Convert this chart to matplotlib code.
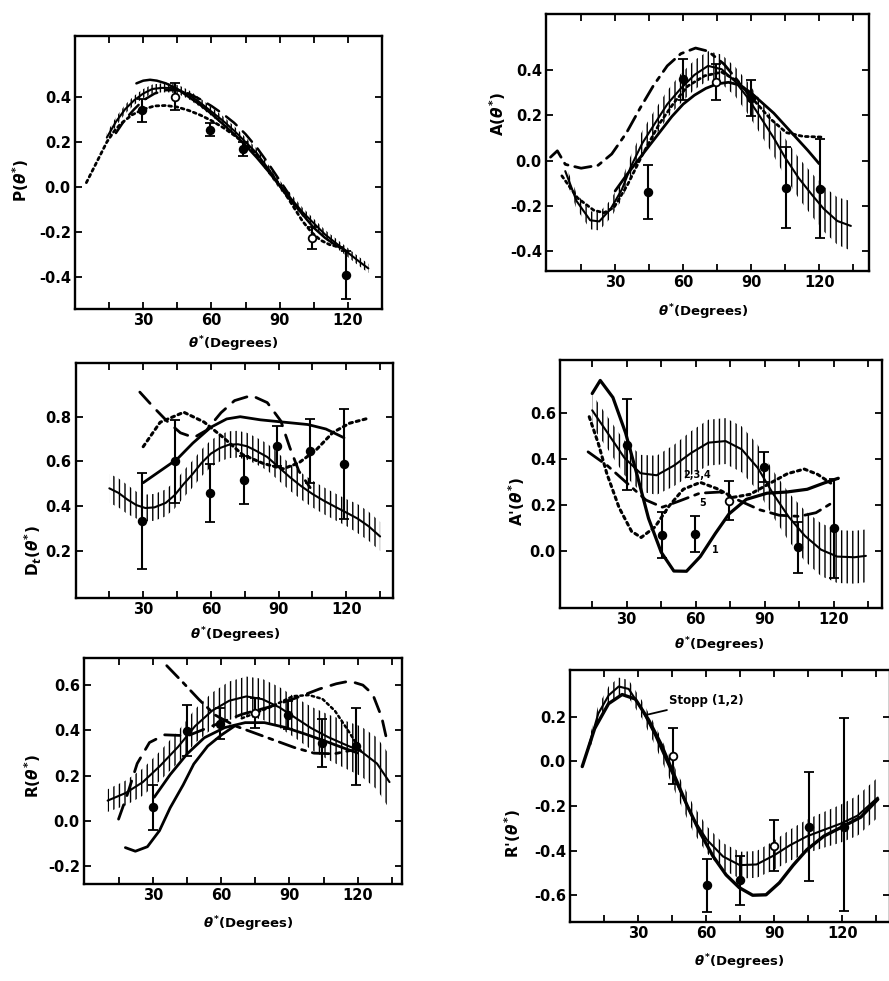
import numpy as np
import matplotlib
matplotlib.use("Agg")
import matplotlib.pyplot as plt

plt.rcParams['font.family'] = ['DejaVu Sans']
plt.rcParams['font.weight'] = 'bold'
plt.rcParams['mathtext.fontset'] = 'custom'
plt.rcParams['mathtext.rm'] = 'DejaVu Sans:bold'
plt.rcParams['mathtext.it'] = 'DejaVu Sans:italic:bold'
plt.rcParams['mathtext.bf'] = 'DejaVu Sans:bold'
plt.rcParams['hatch.linewidth'] = 1.0
plt.rcParams['hatch.color'] = 'black'

# ---------------- P(theta) ----------------
p_band_x = [14, 18, 22, 26, 30, 34, 38, 42, 46, 50, 55, 60, 65, 70, 75, 80, 85, 90, 95, 100, 105, 110, 115, 120, 125, 129]
p_band_y = [0.22, 0.29, 0.345, 0.385, 0.415, 0.435, 0.44, 0.44, 0.43, 0.41, 0.375, 0.335, 0.295, 0.25, 0.20, 0.15,
            0.08, 0.01, -0.05, -0.11, -0.16, -0.21, -0.25, -0.29, -0.33, -0.36]
p_band_hw = [0.02] * 26
p_solid_x = [27, 30, 33, 36, 40, 45, 50, 55, 60, 65, 70, 75, 80, 85, 90, 95, 100, 105, 110, 115, 119]
p_solid_y = [0.46, 0.472, 0.476, 0.472, 0.46, 0.435, 0.40, 0.365, 0.325, 0.28, 0.235, 0.185, 0.13, 0.07, 0.005,
             -0.06, -0.12, -0.18, -0.225, -0.26, -0.28]
p_dot_x = [5, 8, 11, 14, 17, 20, 25, 30, 35, 40, 45, 50, 55, 60, 65, 70, 75, 80, 85, 90, 95, 100, 104, 108, 112, 116, 119]
p_dot_y = [0.02, 0.08, 0.14, 0.2, 0.245, 0.28, 0.32, 0.345, 0.36, 0.362, 0.355, 0.34, 0.32, 0.295, 0.265, 0.23,
           0.19, 0.14, 0.08, 0.01, -0.07, -0.15, -0.2, -0.235, -0.255, -0.265, -0.27]
p_dash_x = [18, 22, 26, 30, 35, 40, 45, 50, 55, 60, 65, 70, 75, 80, 85, 90, 94]
p_dash_y = [0.24, 0.30, 0.345, 0.385, 0.415, 0.43, 0.43, 0.415, 0.39, 0.36, 0.325, 0.285, 0.235, 0.175, 0.105, 0.03, -0.03]
p_pts_x = [29.4, 44, 59.4, 74, 104.4, 119.3]
p_pts_y = [0.34, 0.40, 0.255, 0.17, -0.225, -0.39]
p_pts_err = [0.05, 0.06, 0.03, 0.03, 0.05, 0.105]
p_pts_filled = [True, False, True, True, False, True]

# ---------------- A(theta) ----------------
a_band_x = [8, 13, 19, 23, 28, 33, 37, 42, 47, 53, 59, 65, 71, 77, 83, 88, 94, 100, 105, 111, 117, 122, 128, 134]
a_band_y = [-0.047, -0.18, -0.265, -0.27, -0.215, -0.128, -0.026, 0.077, 0.156, 0.25, 0.32, 0.38, 0.42, 0.405,
            0.35, 0.285, 0.194, 0.10, 0.013, -0.078, -0.154, -0.214, -0.268, -0.29]
a_band_hw = [0.03, 0.035, 0.04, 0.04, 0.04, 0.045, 0.05, 0.055, 0.06, 0.06, 0.065, 0.065, 0.065, 0.065, 0.065,
             0.07, 0.075, 0.08, 0.085, 0.09, 0.095, 0.10, 0.105, 0.11]
a_solid_x = [30, 35, 40, 45, 50, 55, 60, 65, 70, 75, 80, 85, 90, 95, 100, 105, 110, 115, 120]
a_solid_y = [-0.135, -0.065, 0.0, 0.065, 0.13, 0.195, 0.25, 0.29, 0.32, 0.34, 0.347, 0.335, 0.30, 0.255, 0.21,
             0.155, 0.10, 0.045, -0.014]
a_dashdot_x = [1.5, 4.5, 8, 15, 22.5, 28.5, 35, 41, 47, 53, 59, 65.5, 71, 78, 85.5, 90]
a_dashdot_y = [0.015, 0.043, -0.017, -0.034, -0.021, 0.029, 0.123, 0.232, 0.334, 0.42, 0.474, 0.499, 0.485,
               0.428, 0.337, 0.28]
a_dot_x = [6.5, 13.5, 20.5, 25, 29.5, 35.5, 42, 49.5, 56, 62, 69.5, 77, 84, 91, 98.5, 105.5, 113, 121.5]
a_dot_y = [-0.068, -0.167, -0.22, -0.232, -0.208, -0.107, 0.025, 0.163, 0.257, 0.33, 0.376, 0.392, 0.352, 0.27,
           0.185, 0.124, 0.107, 0.104]
a_pts_x = [44.7, 59.9, 74.6, 89.8, 105.2, 120.2]
a_pts_y = [-0.14, 0.36, 0.35, 0.277, -0.12, -0.125]
a_pts_err = [0.12, 0.09, 0.08, 0.08, 0.18, 0.22]
a_pts_filled = [True, True, False, True, True, True]

# ---------------- D_t(theta) ----------------
d_band_x = [15, 19, 23, 27, 31, 35, 40, 44, 48, 52, 56, 60, 64, 68, 72, 76, 80, 85, 90, 95, 100, 105, 110, 115,
            120, 125, 130, 135]
d_band_y = [0.48, 0.46, 0.43, 0.405, 0.392, 0.395, 0.415, 0.45, 0.50, 0.545, 0.595, 0.635, 0.66, 0.675, 0.677,
            0.668, 0.648, 0.62, 0.575, 0.53, 0.49, 0.455, 0.425, 0.398, 0.372, 0.345, 0.31, 0.265]
d_band_hw = [0.065] * 3 + [0.06] * 22 + [0.065] * 3
d_solid_x = [30, 37, 45, 52, 60, 67, 73, 82, 92, 103, 111, 119]
d_solid_y = [0.505, 0.554, 0.61, 0.682, 0.753, 0.79, 0.80, 0.786, 0.776, 0.765, 0.745, 0.706]
d_dash_x = [28.5, 35, 40.5, 46.5, 52.5, 58, 64.5, 70.5, 78, 85, 91, 95, 99, 104]
d_dash_y = [0.91, 0.838, 0.781, 0.728, 0.707, 0.739, 0.818, 0.872, 0.895, 0.863, 0.781, 0.662, 0.557, 0.483]
d_dot_x = [30, 37.5, 48, 57, 65.5, 74, 83, 92, 99, 106.5, 114, 121.5, 129]
d_dot_y = [0.666, 0.775, 0.82, 0.776, 0.707, 0.631, 0.592, 0.567, 0.594, 0.65, 0.729, 0.771, 0.791]
d_pts_x = [29.3, 44.3, 59.6, 74.7, 89.4, 104, 119.2]
d_pts_y = [0.335, 0.60, 0.46, 0.518, 0.67, 0.647, 0.588]
d_pts_err = [0.215, 0.185, 0.13, 0.107, 0.09, 0.145, 0.245]
d_pts_filled = [True] * 7

# ---------------- A'(theta) ----------------
ap_band_x = [15, 22, 29, 36, 43, 50.5, 58, 65.5, 73, 80, 87, 93.5, 100.5, 107.5, 114.5, 121.5, 129, 134]
ap_band_y = [0.611, 0.508, 0.404, 0.337, 0.328, 0.37, 0.425, 0.47, 0.477, 0.441, 0.36, 0.25, 0.146, 0.064,
             0.004, -0.026, -0.029, -0.023]
ap_band_hw = [0.07, 0.07, 0.075, 0.08, 0.085, 0.09, 0.095, 0.1, 0.1, 0.1, 0.1, 0.1, 0.105, 0.11, 0.115, 0.115,
              0.115, 0.115]
ap_one_x = [15, 18.5, 24, 29.5, 34.5, 39.5, 45, 50.5, 56, 62, 68.5, 74.5, 82, 91, 99.5, 108.5, 116, 122]
ap_one_y = [0.684, 0.741, 0.667, 0.513, 0.33, 0.14, -0.007, -0.089, -0.09, -0.026, 0.074, 0.16, 0.223, 0.25,
            0.255, 0.267, 0.295, 0.315]
ap_dot_x = [13.7, 17.7, 21.4, 26.7, 32.1, 36.3, 42.3, 48.5, 54.6, 62, 69.2, 76.3, 83.6, 91, 99.9, 107.2, 113, 118.7]
ap_dot_y = [0.583, 0.465, 0.334, 0.187, 0.084, 0.057, 0.103, 0.195, 0.267, 0.297, 0.27, 0.232, 0.245, 0.286,
            0.335, 0.355, 0.332, 0.294]
ap_dd_x = [13.2, 21.6, 30, 38.4, 45.5, 52.9, 61.8, 70.6, 79.1, 87.7, 96.3, 105, 112.3, 119]
ap_dd_y = [0.43, 0.37, 0.295, 0.22, 0.189, 0.216, 0.25, 0.255, 0.217, 0.178, 0.154, 0.149, 0.165, 0.206]
ap_pts_x = [30, 45.4, 59.6, 74.4, 89.6, 104.5, 120]
ap_pts_y = [0.462, 0.066, 0.072, 0.218, 0.364, 0.014, 0.097]
ap_pts_err = [0.196, 0.10, 0.08, 0.083, 0.065, 0.11, 0.215]
ap_pts_filled = [True, True, True, False, True, True, True]
ap_curve_labels = ["2,3,4", "5", "1"]
ap_label_x = [60.6, 63, 68.4]
ap_label_y = [0.33, 0.209, 0.004]

# ---------------- R(theta) ----------------
r_band_x = [10, 18, 25.5, 33, 41, 48.5, 56, 63.5, 71, 78, 85.5, 92.5, 99.5, 107, 114, 121.5, 128.5, 134]
r_band_y = [0.089, 0.123, 0.171, 0.242, 0.327, 0.419, 0.487, 0.531, 0.55, 0.538, 0.502, 0.456, 0.41, 0.37,
            0.339, 0.307, 0.253, 0.171]
r_band_hw = [0.05, 0.055, 0.06, 0.065, 0.07, 0.075, 0.08, 0.085, 0.088, 0.09, 0.09, 0.09, 0.095, 0.1, 0.105,
             0.11, 0.115, 0.12]
r_solid_x = [30.5, 37.5, 45, 52.5, 61.5, 70.5, 79, 88, 96.5, 105.5, 114, 120]
r_solid_y = [0.104, 0.204, 0.296, 0.367, 0.412, 0.434, 0.434, 0.413, 0.385, 0.353, 0.321, 0.30]
r_low_x = [17.8, 22.2, 27.5, 32.8, 37.5, 43.2, 47.9, 54, 60, 66]
r_low_y = [-0.119, -0.135, -0.115, -0.044, 0.057, 0.158, 0.251, 0.33, 0.379, 0.42]
r_dash_x = [14.8, 18.9, 23, 28.4, 35.1, 45.3, 57.2, 69.1, 81, 92.8, 103.2, 110.6, 116.5, 122.3, 126.6, 130.6, 133.2]
r_dash_y = [0.007, 0.123, 0.253, 0.346, 0.38, 0.376, 0.424, 0.471, 0.503, 0.543, 0.583, 0.606, 0.618, 0.60,
            0.56, 0.457, 0.34]
r_dd_x = [36, 43.2, 50.2, 57.4, 66, 74.7, 83.4, 92.1, 100.8, 109.6, 117]
r_dd_y = [0.686, 0.611, 0.536, 0.467, 0.42, 0.388, 0.356, 0.324, 0.299, 0.296, 0.311]
r_dot_x = [69, 81, 91.5, 98.5, 104.5, 110, 116, 121.5]
r_dot_y = [0.453, 0.50, 0.551, 0.556, 0.539, 0.486, 0.396, 0.307]
r_pts_x = [30, 44.9, 59.4, 75, 89.3, 104.2, 119.2]
r_pts_y = [0.06, 0.398, 0.43, 0.476, 0.467, 0.342, 0.33]
r_pts_err = [0.10, 0.113, 0.07, 0.065, 0.062, 0.106, 0.17]
r_pts_filled = [True, True, True, False, True, True, True]

# ---------------- R'(theta) ----------------
rp_band_x = [7.6, 12.3, 16.9, 21.3, 25.7, 31.5, 37.2, 42.9, 48.6, 54.3, 60.1, 67.3, 74.7, 82.1, 89.5, 97, 104.3,
             111.8, 119.2, 126.7, 135.6]
rp_band_y = [0.051, 0.215, 0.297, 0.336, 0.325, 0.234, 0.12, -0.009, -0.137, -0.258, -0.35, -0.426, -0.465,
             -0.462, -0.423, -0.375, -0.336, -0.307, -0.279, -0.243, -0.162]
rp_band_hw = [0.03, 0.035, 0.04, 0.04, 0.04, 0.04, 0.045, 0.05, 0.055, 0.06, 0.06, 0.06, 0.06, 0.06, 0.065, 0.07,
              0.075, 0.08, 0.085, 0.09, 0.09]
rp_solid_x = [5.2, 10.7, 16.8, 22.8, 28.6, 34.4, 40.1, 45.8, 51.5, 57.2, 62.9, 68.7, 74.5, 80.4, 86.3, 92.2, 98.3,
              104.3, 111.8, 119.2, 128.1, 135.6]
rp_solid_y = [-0.023, 0.148, 0.259, 0.30, 0.28, 0.188, 0.075, -0.062, -0.198, -0.319, -0.425, -0.509, -0.566,
              -0.60, -0.598, -0.544, -0.465, -0.396, -0.335, -0.297, -0.25, -0.17]
rp_pts_x = [45.2, 60.2, 74.7, 90, 105.2, 120.7]
rp_pts_y = [0.026, -0.556, -0.533, -0.378, -0.296, -0.294]
rp_pts_elo = [0.125, 0.117, 0.11, 0.115, 0.24, 0.375]
rp_pts_ehi = [0.125, 0.117, 0.11, 0.115, 0.25, 0.49]
rp_pts_filled = [False, True, True, False, True, True]

x_tick_pos = [15, 30, 45, 60, 75, 90, 105, 120, 135]
x_tick_lab = ['', '30', '', '60', '', '90', '', '120', '']
xlabel_text = r'$\theta^{*}$(Degrees)'

W, H = 889, 981
fig = plt.figure(figsize=(W / 100, H / 100), dpi=100)
fig.patch.set_facecolor('white')

DOT = (0, (1.0, 1.3))
DASH = (0, (5.5, 3.5))
DASHDOT = (0, (6, 2.5, 1.5, 2.5))


def make_axes(l, r, t, b, xlim, ylim, yticks, ylabel, ylab_xy, xlab_xy):
    ax = fig.add_axes([l / W, 1 - b / H, (r - l) / W, (b - t) / H])
    ax.set_xlim(*xlim)
    ax.set_ylim(*ylim)
    ax.set_xticks(x_tick_pos)
    ax.set_xticklabels(x_tick_lab)
    ax.set_yticks(yticks)
    ax.set_yticklabels(['%.1f' % v if abs(v) > 1e-9 else '0.0' for v in yticks])
    ax.tick_params(direction='in', length=5, width=1.3, top=True, right=True,
                   labelsize=10.5, pad=3)
    for lab in ax.get_xticklabels() + ax.get_yticklabels():
        lab.set_fontweight('bold')
    for sp in ax.spines.values():
        sp.set_linewidth(1.7)
    ax.set_ylabel(ylabel, fontsize=11, fontweight='bold', va='center', ha='center')
    ax.yaxis.set_label_coords(*ylab_xy)
    ax.set_xlabel(xlabel_text, fontsize=9.5, fontweight='bold', va='center', ha='center')
    ax.xaxis.set_label_coords(*xlab_xy)
    return ax


def band(ax, x, y, hw, hatch='|||'):
    x = np.asarray(x)
    y = np.asarray(y)
    hw = np.asarray(hw)
    ax.fill_between(x, y - hw, y + hw, facecolor='none', edgecolor='black',
                    hatch=hatch, linewidth=0)
    ax.plot(x, y, color='black', lw=1.5, solid_capstyle='round')


def line(ax, x, y, style='-', lw=2.0):
    ax.plot(x, y, color='black', lw=lw, linestyle=style,
            dash_capstyle='round', solid_capstyle='round')


def points(ax, x, y, err, filled):
    for xi, yi, ei, fi in zip(x, y, np.asarray(err).T if np.ndim(err) > 1 else err, filled):
        yerr = [[ei[0]], [ei[1]]] if np.ndim(ei) > 0 else ei
        ax.errorbar([xi], [yi], yerr=yerr, fmt='o', color='black', ms=5.5,
                    mfc='black' if fi else 'white', mec='black', mew=1.3,
                    elinewidth=1.5, capsize=3.5, capthick=1.5, zorder=5)


# P(theta)
ax1 = make_axes(75, 382, 36, 309, (0, 135), (-0.54, 0.67), [-0.4, -0.2, 0.0, 0.2, 0.4],
                r'P($\theta^{*}$)', (-0.176, 0.47), (0.515, -0.13))
band(ax1, p_band_x, p_band_y, p_band_hw, hatch='||||')
line(ax1, p_solid_x, p_solid_y, '-', 1.8)
line(ax1, p_dot_x, p_dot_y, DOT, 2.0)
line(ax1, p_dash_x, p_dash_y, DASH, 1.8)
points(ax1, p_pts_x, p_pts_y, p_pts_err, p_pts_filled)

# A(theta)
ax2 = make_axes(546, 869, 14, 271, (-0.5, 142), (-0.49, 0.65), [-0.4, -0.2, 0.0, 0.2, 0.4],
                r'A($\theta^{*}$)', (-0.149, 0.61), (0.486, -0.16))
band(ax2, a_band_x, a_band_y, a_band_hw)
line(ax2, a_solid_x, a_solid_y, '-', 2.0)
line(ax2, a_dashdot_x, a_dashdot_y, DASHDOT, 2.0)
line(ax2, a_dot_x, a_dot_y, DOT, 2.0)
points(ax2, a_pts_x, a_pts_y, a_pts_err, a_pts_filled)

# D_t(theta)
ax3 = make_axes(75.5, 392.5, 363, 598, (0, 140.5), (-0.01, 1.04), [0.2, 0.4, 0.6, 0.8],
                r'D$_{t}$($\theta^{*}$)', (-0.134, 0.2), (0.503, -0.157))
band(ax3, d_band_x, d_band_y, d_band_hw)
line(ax3, d_solid_x, d_solid_y, '-', 2.0)
line(ax3, d_dash_x, d_dash_y, DASH, 2.0)
line(ax3, d_dot_x, d_dot_y, DOT, 2.2)
points(ax3, d_pts_x, d_pts_y, d_pts_err, d_pts_filled)

# A'(theta)
ax4 = make_axes(560, 882, 360, 608, (1, 141), (-0.25, 0.83), [0.0, 0.2, 0.4, 0.6],
                r"A'($\theta^{*}$)", (-0.134, 0.43), (0.494, -0.149))
band(ax4, ap_band_x, ap_band_y, ap_band_hw)
line(ax4, ap_one_x, ap_one_y, '-', 2.3)
line(ax4, ap_dot_x, ap_dot_y, DOT, 2.2)
line(ax4, ap_dd_x, ap_dd_y, DASHDOT, 2.0)
points(ax4, ap_pts_x, ap_pts_y, ap_pts_err, ap_pts_filled)
for txt, tx, ty in zip(ap_curve_labels, ap_label_x, ap_label_y):
    ax4.text(tx, ty, txt, fontsize=7, fontweight='bold', ha='center', va='center')

# R(theta)
ax5 = make_axes(84, 402, 658, 884, (-0.4, 139.5), (-0.28, 0.72), [-0.2, 0.0, 0.2, 0.4, 0.6],
                r'R($\theta^{*}$)', (-0.16, 0.48), (0.516, -0.18))
band(ax5, r_band_x, r_band_y, r_band_hw)
line(ax5, r_solid_x, r_solid_y, '-', 2.0)
line(ax5, r_low_x, r_low_y, '-', 2.0)
line(ax5, r_dash_x, r_dash_y, DASH, 2.0)
line(ax5, r_dd_x, r_dd_y, DASHDOT, 2.0)
line(ax5, r_dot_x, r_dot_y, DOT, 1.8)
points(ax5, r_pts_x, r_pts_y, r_pts_err, r_pts_filled)

# R'(theta)
ax6 = make_axes(570, 890, 670, 922, (-0.2, 141), (-0.72, 0.41), [-0.6, -0.4, -0.2, 0.0, 0.2],
                r"R'($\theta^{*}$)", (-0.178, 0.35), (0.53, -0.16))
band(ax6, rp_band_x, rp_band_y, rp_band_hw)
line(ax6, rp_solid_x, rp_solid_y, '-', 2.4)
points(ax6, rp_pts_x, rp_pts_y, np.array([rp_pts_elo, rp_pts_ehi]), rp_pts_filled)
ax6.annotate('Stopp (1,2)', xy=(33.2, 0.208), xytext=(43.5, 0.272), fontsize=8.5,
             fontweight='bold', ha='left', va='center',
             arrowprops=dict(arrowstyle='-', color='black', lw=1.3, shrinkA=0, shrinkB=0))

fig.savefig('out.png', dpi=100, facecolor='white')
